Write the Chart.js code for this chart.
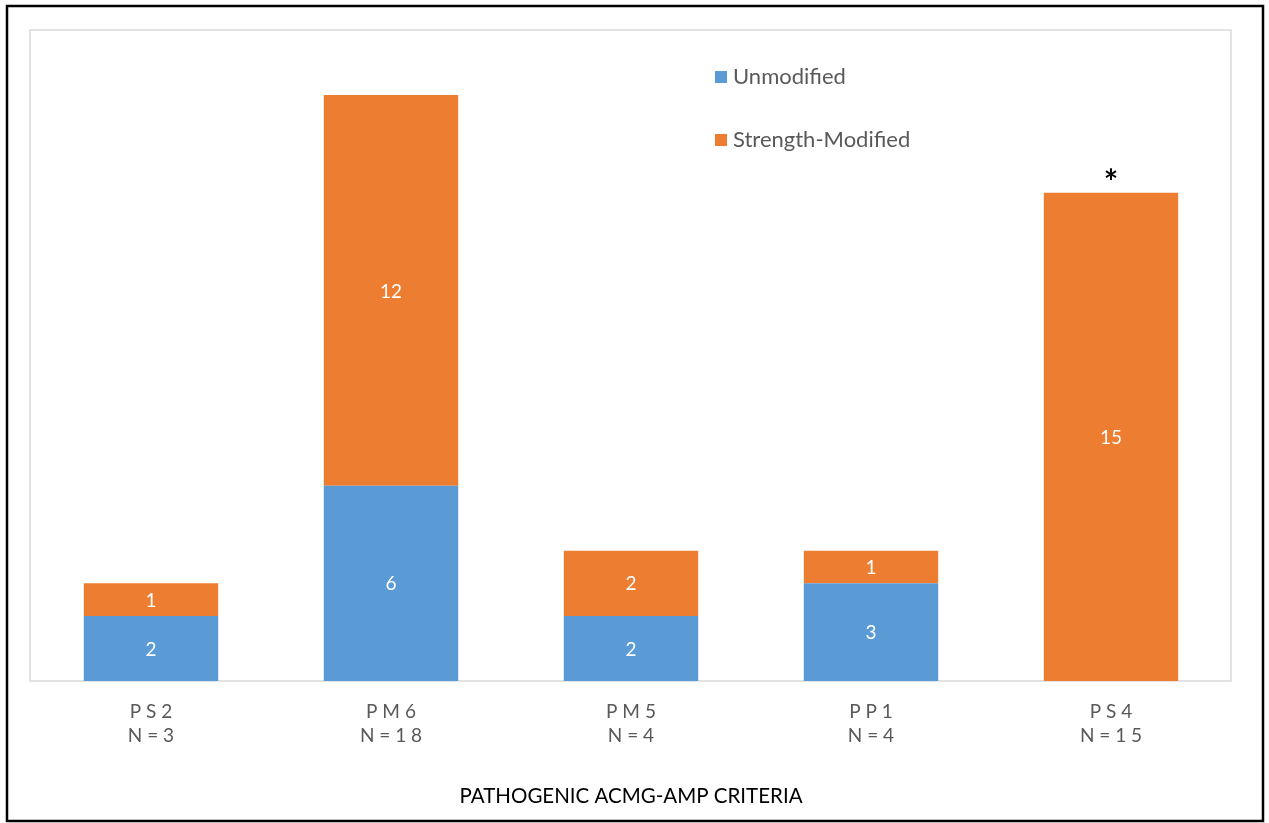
<!DOCTYPE html>
<html>
<head>
<meta charset="utf-8">
<script src="https://cdn.jsdelivr.net/npm/chart.js@4.4.0/dist/chart.umd.min.js"></script>
<style>
  html, body { margin: 0; padding: 0; background: #fff; }
  #wrap { width: 1269px; height: 823px; position: relative; }
</style>
</head>
<body>
<div id="wrap"><canvas id="chart"></canvas></div>
<script>
// categories and counts
var criteria = [['P S 2', 'N = 3'], ['P M 6', 'N = 1 8'], ['P M 5', 'N = 4'], ['P P 1', 'N = 4'], ['P S 4', 'N = 1 5']];
var unmodified = [2, 6, 2, 3, 0];
var strengthModified = [1, 12, 2, 1, 15];
var starred = [false, false, false, false, true]; // asterisk above bar

var FONT = 'Lato, "Open Sans", sans-serif';

// white numbers in the middle of each segment + asterisk
var segmentLabels = {
    id: 'segmentLabels',
    afterDatasetsDraw: function(chart) {
        var ctx = chart.ctx;
        ctx.save();
        ctx.textAlign = 'center';
        ctx.textBaseline = 'middle';
        chart.data.datasets.forEach(function(ds, di) {
            var meta = chart.getDatasetMeta(di);
            meta.data.forEach(function(bar, i) {
                if (!ds.data[i]) return;
                var p = bar.getProps(['x', 'y', 'base'], true);
                ctx.fillStyle = '#ffffff';
                ctx.font = '19px ' + FONT;
                ctx.fillText(ds.data[i], p.x, (p.y + p.base) / 2 + 1);
            });
        });
        var top = chart.getDatasetMeta(chart.data.datasets.length - 1);
        top.data.forEach(function(bar, i) {
            if (!starred[i]) return;
            var p = bar.getProps(['x', 'y'], true);
            ctx.fillStyle = '#000';
            ctx.font = 'bold 34px ' + FONT;
            ctx.fillText('*', p.x, p.y - 10);
        });
        ctx.restore();
    }
};

// frames: light grey plot box and black outer border
var frames = {
    id: 'frames',
    beforeDatasetsDraw: function(chart) {
        var ctx = chart.ctx, a = chart.chartArea;
        ctx.save();
        ctx.strokeStyle = '#d9d9d9';
        ctx.lineWidth = 1.5;
        ctx.strokeRect(a.left - 1, a.top, a.right - a.left + 1, a.bottom - a.top);
        ctx.restore();
    },
    afterDraw: function(chart) {
        var ctx = chart.ctx;
        ctx.save();
        ctx.strokeStyle = '#000';
        ctx.lineWidth = 2.5;
        ctx.strokeRect(7, 6, 1256, 815);
        ctx.restore();
    }
};

// legend stacked vertically near top centre-right
var sideLegend = {
    id: 'sideLegend',
    afterDraw: function(chart) {
        var ctx = chart.ctx;
        ctx.save();
        ctx.font = '22px ' + FONT;
        ctx.textBaseline = 'middle';
        ctx.textAlign = 'left';
        chart.data.datasets.forEach(function(ds, i) {
            var y = 77 + i * 63;
            ctx.fillStyle = ds.backgroundColor;
            ctx.fillRect(715, y - 6, 12, 12);
            ctx.fillStyle = '#595959';
            ctx.fillText(ds.label, 733, y);
        });
        ctx.restore();
    }
};

var ctx = document.getElementById('chart');
new Chart(ctx, {
    type: 'bar',
    data: {
        labels: criteria,
        datasets: [
            { label: 'Unmodified', data: unmodified, backgroundColor: '#5b9bd5' },
            { label: 'Strength-Modified', data: strengthModified, backgroundColor: '#ed7d31' }
        ]
    },
    options: {
        responsive: true,
        maintainAspectRatio: false,
        animation: false,
        layout: { padding: { left: 31, right: 38, top: 30, bottom: 0 } },
        datasets: { bar: { barPercentage: 0.56, categoryPercentage: 1 } },
        plugins: { legend: { display: false }, tooltip: { enabled: false } },
        scales: {
            x: {
                stacked: true,
                grid: { display: false, drawTicks: false },
                border: { display: false },
                ticks: { color: '#595959', font: { family: FONT, size: 19, lineHeight: 1.25 }, padding: 19 },
                title: {
                    display: true,
                    text: 'PATHOGENIC ACMG-AMP CRITERIA',
                    color: '#000',
                    font: { family: FONT, size: 20.5 },
                    padding: { top: 0, bottom: 14 }
                },
                afterFit: function(scale) { scale.height = 142; }
            },
            y: {
                stacked: true,
                display: false,
                min: 0,
                max: 20
            }
        }
    },
    plugins: [frames, segmentLabels, sideLegend]
});
</script>
</body>
</html>
